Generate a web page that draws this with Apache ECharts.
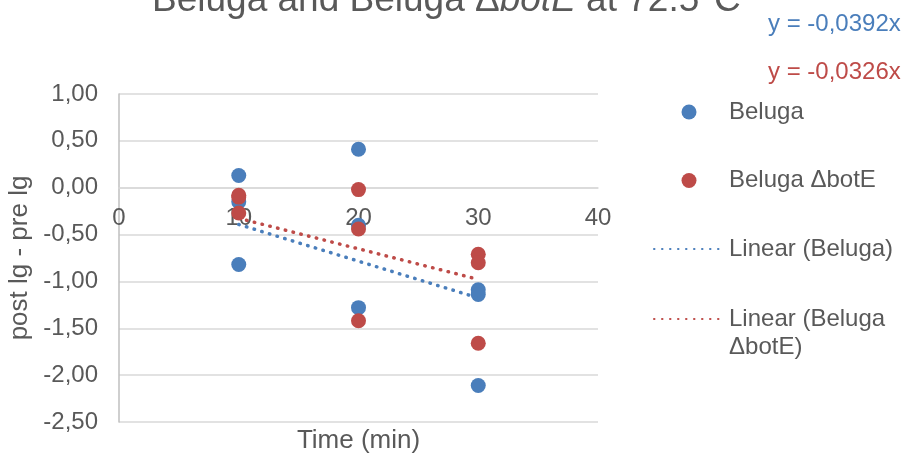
<!DOCTYPE html>
<html><head><meta charset="utf-8">
<script src="https://cdn.jsdelivr.net/npm/echarts@6/dist/echarts.min.js"></script>
<style>html,body{margin:0;padding:0;background:#fff}#c{width:908px;height:456px}</style>
</head><body><div id="c"></div>
<script>
const belugaX = [10, 10, 10, 20, 20, 20, 30, 30, 30];
const belugaY = [0.13, -0.15, -0.82, 0.41, -0.40, -1.28, -1.09, -1.14, -2.11];
const botEX = [10, 10, 10, 20, 20, 20, 30, 30, 30];
const botEY = [-0.10, -0.08, -0.27, -0.02, -0.44, -1.42, -0.71, -0.80, -1.66];
const trendSlopes = [-0.0392, -0.0326];
const trendLabels = ['y = -0,0392x', 'y = -0,0326x'];
const trendRange = [10, 30];
const yTicks = [-2.5, 1, 0.5];
const xTicks = [0, 40, 10];

const blue = '#4a7ebb', red = '#be4b48', txt = '#595959';
const font = 'Liberation Sans, Arial, sans-serif';
const pts = (xs, ys) => xs.map((x, i) => [x, ys[i]]);
const trend = s => trendRange.map(x => [x, s * x]);
const legendText = {fontSize: 24, color: txt, fontFamily: font, lineHeight: 28};

const chart = echarts.init(document.getElementById('c'));
chart.setOption({
  animation: false,
  textStyle: {fontFamily: font, color: txt},
  title: {
    text: 'Beluga and Beluga Δ{i|botE} at 72.5°C',
    left: 147, top: -23,
    textStyle: {fontFamily: font, fontSize: 37, fontWeight: 'normal', color: txt,
      rich: {i: {fontFamily: font, fontSize: 37, fontStyle: 'italic', color: txt}}}
  },
  grid: {left: 119, right: 310, top: 94, bottom: 34, outerBoundsMode: 'none', containLabel: false},
  xAxis: {
    type: 'value', min: xTicks[0], max: xTicks[1], interval: xTicks[2],
    offset: -234,
    axisLine: {onZero: false, lineStyle: {color: '#d9d9d9', width: 1.5}},
    axisTick: {show: false}, splitLine: {show: false},
    axisLabel: {fontSize: 24, color: txt, margin: 18, fontFamily: font},
    name: 'Time (min)', nameLocation: 'middle', nameGap: 240,
    nameTextStyle: {fontSize: 26, color: txt, fontFamily: font, verticalAlign: 'top'}
  },
  yAxis: {
    type: 'value', min: yTicks[0], max: yTicks[1], interval: yTicks[2],
    axisLine: {show: true, onZero: false, lineStyle: {color: '#bfbfbf', width: 1.5}},
    axisTick: {show: false},
    splitLine: {lineStyle: {color: '#d9d9d9', width: 1.5}},
    axisLabel: {fontSize: 24, color: txt, margin: 21, fontFamily: font,
      formatter: v => v.toFixed(2).replace('.', ',')},
    name: 'post lg - pre lg', nameLocation: 'middle', nameGap: 81,
    nameTextStyle: {fontSize: 26, color: txt, fontFamily: font}
  },
  legend: [{
    orient: 'vertical', left: 648, top: 93, itemWidth: 70, itemHeight: 15, itemGap: 40.5,
    textStyle: legendText,
    data: [
      {name: 'Beluga'},
      {name: 'Beluga ΔbotE'},
      {name: 'Linear (Beluga)', itemStyle: {opacity: 0}}
    ]
  }, {
    orient: 'vertical', left: 648, top: 272, itemWidth: 70, itemHeight: 15,
    textStyle: legendText,
    formatter: n => '\n' + n,
    data: [
      {name: 'Linear (Beluga\nΔbotE)', itemStyle: {opacity: 0}}
    ]
  }],
  graphic: [
    {type: 'text', left: 768, top: 12, style: {text: trendLabels[0], fill: blue, fontSize: 24, fontFamily: font}},
    {type: 'text', left: 768, top: 60, style: {text: trendLabels[1], fill: red, fontSize: 24, fontFamily: font}}
  ],
  series: [
    {name: 'Beluga', type: 'scatter', data: pts(belugaX, belugaY), symbolSize: 15, itemStyle: {color: blue, opacity: 1}, z: 2},
    {name: 'Beluga ΔbotE', type: 'scatter', data: pts(botEX, botEY), symbolSize: 15, itemStyle: {color: red, opacity: 1}, z: 3},
    {name: 'Linear (Beluga)', type: 'line', data: trend(trendSlopes[0]), showSymbol: false, symbol: 'none', z: 4,
      itemStyle: {color: blue}, lineStyle: {color: blue, width: 3.5, type: [0.5, 7.5], cap: 'round'}},
    {name: 'Linear (Beluga\nΔbotE)', type: 'line', data: trend(trendSlopes[1]), showSymbol: false, symbol: 'none', z: 4,
      itemStyle: {color: red}, lineStyle: {color: red, width: 3.5, type: [0.5, 7.5], cap: 'round'}}
  ]
});
</script></body></html>
